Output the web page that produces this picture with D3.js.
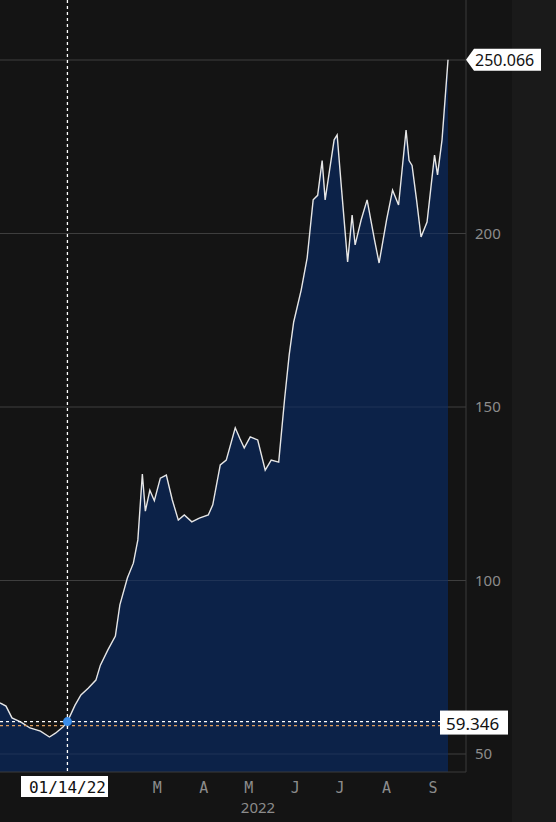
<!DOCTYPE html>
<html><head><meta charset="utf-8">
<script src="https://cdn.jsdelivr.net/npm/d3@7"></script>
<style>body{margin:0;background:#141414}svg{display:block}</style>
</head><body>
<svg id="c" width="556" height="822"></svg>
<script>
const dates = ["2021-11-30","2021-12-04","2021-12-08","2021-12-14","2021-12-20","2021-12-27","2022-01-02","2022-01-06","2022-01-11","2022-01-14","2022-01-19","2022-01-23","2022-01-28","2022-02-02","2022-02-05","2022-02-10","2022-02-15","2022-02-18","2022-02-23","2022-02-27","2022-03-02","2022-03-05","2022-03-07","2022-03-10","2022-03-13","2022-03-17","2022-03-21","2022-03-25","2022-03-29","2022-04-02","2022-04-07","2022-04-12","2022-04-18","2022-04-21","2022-04-26","2022-04-30","2022-05-06","2022-05-09","2022-05-12","2022-05-16","2022-05-21","2022-05-26","2022-05-30","2022-06-04","2022-06-08","2022-06-11","2022-06-14","2022-06-19","2022-06-23","2022-06-27","2022-06-30","2022-07-03","2022-07-05","2022-07-08","2022-07-11","2022-07-13","2022-07-16","2022-07-20","2022-07-23","2022-07-25","2022-07-29","2022-08-02","2022-08-07","2022-08-10","2022-08-15","2022-08-19","2022-08-23","2022-08-28","2022-08-30","2022-09-01","2022-09-04","2022-09-07","2022-09-11","2022-09-13","2022-09-16","2022-09-18","2022-09-21","2022-09-23","2022-09-25"];
const values = [64.7,63.8,60.4,59.2,57.5,56.6,54.9,56.0,57.8,59.346,64.0,67.0,69.0,71.3,75.6,80.0,84.0,93.0,100.7,105.0,111.7,130.7,120.0,126.0,123.0,129.5,130.4,123.2,117.4,118.9,116.9,118.0,118.9,121.8,133.3,134.7,144.0,141.0,138.2,141.4,140.5,131.8,134.7,134.1,152.6,165.0,174.5,183.7,193.0,209.7,211.0,221.0,209.7,218.4,227.0,228.4,212.5,191.8,205.3,196.7,203.9,209.7,198.0,191.5,203.9,212.5,208.2,229.8,221.0,219.6,209.7,199.0,203.3,211.0,222.6,216.9,227.0,238.5,250.066];
const yTicks = [50,100,150,200,250];
const monthTicks = ["2022-03-15","2022-04-15","2022-05-15","2022-06-15","2022-07-15","2022-08-15","2022-09-15"];
const monthLabels = ["M","A","M","J","J","A","S"];
const crossDate = "2022-01-14", crossValue = 59.346, prevValue = 58.2, lastValue = 250.066;

const p = d3.timeParse("%Y-%m-%d");
const data = dates.map((d,i)=>({d:p(d),v:values[i]}));
const svg = d3.select("#c");
const W=466, B=772;
const x = d3.scaleTime().domain([p("2021-11-30"),p("2022-10-07")]).range([0,W]);
const y = d3.scaleLinear().domain([50,250]).range([754,60]);

svg.append("rect").attr("x",512).attr("y",0).attr("width",44).attr("height",822).attr("fill","#1a1a1a");
// grid
svg.selectAll(".g").data(yTicks).join("line").attr("x1",0).attr("x2",W).attr("y1",d=>y(d)).attr("y2",d=>y(d)).attr("stroke","#2e2e2e");
// area
svg.append("path").datum(data).attr("fill","#0c2248")
  .attr("d",d3.area().x(d=>x(d.d)).y0(B).y1(d=>y(d.v)));
svg.selectAll(".g2").data(yTicks).join("line").attr("x1",0).attr("x2",W).attr("y1",d=>y(d)).attr("y2",d=>y(d)).attr("stroke","#ffffff").attr("stroke-opacity",0.08);
svg.append("path").datum(data).attr("fill","none").attr("stroke","#e6e6e6").attr("stroke-width",1.4)
  .attr("d",d3.line().x(d=>x(d.d)).y(d=>y(d.v)));
// borders
svg.append("line").attr("x1",W).attr("x2",W).attr("y1",0).attr("y2",B).attr("stroke","#3a3a3a");
svg.append("line").attr("x1",0).attr("x2",W).attr("y1",B).attr("y2",B).attr("stroke","#3a3a3a");
// y labels
svg.selectAll(".yl").data(yTicks.filter(d=>d<250)).join("text").attr("x",475).attr("y",d=>y(d)+5)
  .attr("fill","#8c8c8c").attr("font-family","Noto Sans, sans-serif").attr("font-size",15).text(d=>d);
// crosshair
const cx = x(p(crossDate)), cy = y(crossValue);
svg.append("line").attr("x1",0).attr("x2",W).attr("y1",y(prevValue)).attr("y2",y(prevValue)).attr("stroke","#e0a060").attr("stroke-dasharray","3,3").attr("stroke-width",1.3);
svg.append("line").attr("x1",0).attr("x2",W).attr("y1",cy).attr("y2",cy).attr("stroke","#fff").attr("stroke-dasharray","3,3").attr("stroke-width",1.3);
svg.append("line").attr("x1",cx).attr("x2",cx).attr("y1",0).attr("y2",B).attr("stroke","#fff").attr("stroke-dasharray","3,3").attr("stroke-width",1.3);
svg.append("circle").attr("cx",cx).attr("cy",cy).attr("r",4.5).attr("fill","#3b8eea");
// value boxes
svg.append("rect").attr("x",440).attr("y",cy-11).attr("width",68).attr("height",24).attr("fill","#fff");
svg.append("text").attr("x",446).attr("y",cy+8).attr("fill","#111").attr("font-family","Noto Sans, sans-serif").attr("font-size",17).text(crossValue.toFixed(3));
const ly = y(lastValue);
svg.append("path").attr("d",`M466,${ly} L474,${ly-11} L541,${ly-11} L541,${ly+11} L474,${ly+11} Z`).attr("fill","#fff");
svg.append("text").attr("x",475).attr("y",ly+6).attr("fill","#111").attr("font-family","Noto Sans, sans-serif").attr("font-size",16).text(lastValue.toFixed(3));
// x labels
svg.selectAll(".xl").data(monthTicks).join("text").attr("x",d=>x(p(d))).attr("y",793).attr("text-anchor","middle")
  .attr("fill","#8c8c8c").attr("font-family","DejaVu Sans Mono, monospace").attr("font-size",15).text((d,i)=>monthLabels[i]);
svg.append("rect").attr("x",21).attr("y",776).attr("width",87).attr("height",21).attr("fill","#fff");
svg.append("text").attr("x",cx).attr("y",793).attr("text-anchor","middle").attr("fill","#111").attr("font-family","DejaVu Sans Mono, monospace").attr("font-size",16).text(d3.timeFormat("%m/%d/%y")(p(crossDate)));
svg.append("text").attr("x",258).attr("y",813).attr("text-anchor","middle").attr("fill","#8c8c8c").attr("font-family","Noto Sans, sans-serif").attr("font-size",15).text("2022");
</script></body></html>
